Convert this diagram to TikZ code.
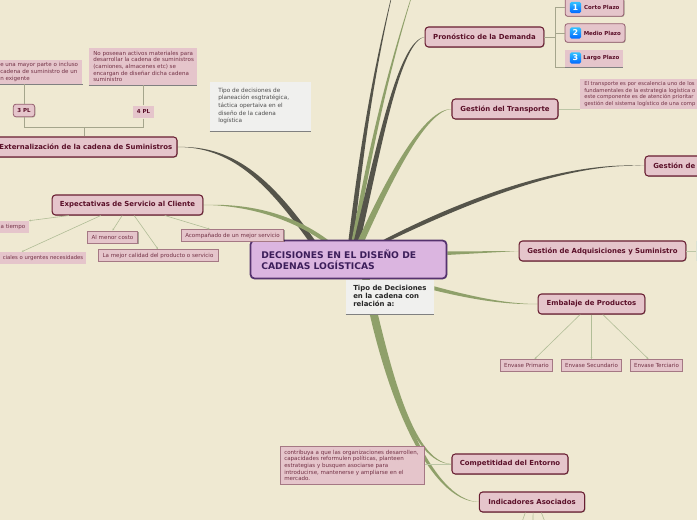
\documentclass[tikz,border=0pt]{standalone}
\usepackage{fontspec}
\setmainfont{DejaVu Sans}
\usepackage{xcolor}
\usepackage{tikz}
\usetikzlibrary{arrows.meta, backgrounds, calc, shadows}
\definecolor{paperbg}{RGB}{239,233,210}
\definecolor{branchdark}{RGB}{85,84,74}
\definecolor{branchgreen}{RGB}{143,160,106}
\definecolor{rosefill}{RGB}{229,197,203}
\definecolor{wineline}{RGB}{105,30,50}
\definecolor{winetext}{RGB}{90,15,40}
\definecolor{softtext}{RGB}{115,50,70}
\definecolor{plumfill}{RGB}{219,181,224}
\definecolor{plumline}{RGB}{85,50,110}
\definecolor{plumtext}{RGB}{60,30,90}
\definecolor{notefill}{RGB}{240,240,238}
\definecolor{stemgray}{RGB}{165,165,140}
\tikzset{
  softshadow/.style={drop shadow={shadow xshift=0.5pt, shadow yshift=-0.5pt, opacity=0.3, fill=black}},
  mainbox/.style={draw=wineline, fill=rosefill, line width=0.8pt, rounded corners=2.5pt, softshadow,
    font=\fontsize{5.2}{6}\selectfont\bfseries, text=winetext, inner sep=0pt, anchor=center},
  leafbox/.style={draw=wineline!60, fill=rosefill, line width=0.6pt, softshadow,
    font=\fontsize{4.15}{5}\selectfont, text=softtext, inner sep=0pt, anchor=center},
  flatbox/.style={fill=rosefill, font=\fontsize{4.15}{5}\selectfont, text=softtext, inner sep=0pt, anchor=center},
  plazobox/.style={draw=wineline!70, fill=rosefill, line width=0.6pt, rounded corners=2pt, softshadow,
    font=\fontsize{4.1}{5}\selectfont\bfseries, text=winetext, inner sep=0pt, anchor=center},
  plbox/.style={font=\fontsize{4.1}{5}\selectfont\bfseries, text=winetext, fill=rosefill, inner sep=0pt, anchor=center},
  iconbox/.style={top color=cyan!70!blue!80, bottom color=blue!60!cyan, rounded corners=1.2pt, minimum size=8.5pt, inner sep=0pt,
    font=\fontsize{6}{6}\selectfont\bfseries, text=white, anchor=center},
  stem/.style={draw=stemgray, line width=0.6pt},
  twig/.style={draw=branchgreen!70, line width=0.45pt, -{Stealth[length=1.6pt, width=1.4pt]}},
  longtext/.style={font=\fontsize{4.15}{4.95}\selectfont, text=softtext, align=left, anchor=west, inner sep=0pt},
}
% tapered branch: start, control, control, end, half width, colour, y side
\newcommand{\branch}[7]{
  \fill[#6] ($(#1)+(-#5,0)$) .. controls (#2) and (#3) .. (#4)
    .. controls ($(#3)+(#5*0.5,#7*#5*0.5)$) and ($(#2)+(#5*1.3,#7*#5*1.3)$) .. ($(#1)+(#5,0)$) -- cycle;
}
\begin{document}
\begin{tikzpicture}[x=0.75pt, y=-0.75pt]
  \useasboundingbox (0,0) rectangle (697,520);

  %% Centre
  \node[draw=plumline, fill=plumfill, line width=1.3pt, rounded corners=3pt, minimum width=147pt, minimum height=28.5pt,
    softshadow, inner sep=0pt, anchor=center] (root) at (348.5,259.5) {};
  \node[font=\fontsize{6.9}{8.2}\selectfont\bfseries, text=plumtext, align=left, anchor=west, inner sep=0pt] (roottext) at (261,260)
    {DECISIONES EN EL DISEÑO DE\\CADENAS LOGÍSTICAS};
  \node[fill=notefill, minimum width=66pt, minimum height=25pt, inner sep=0pt, anchor=center] (tipo) at (390,297) {};
  \node[font=\fontsize{5.2}{6.2}\selectfont\bfseries, text=black!85, align=left, anchor=west, inner sep=0pt] (tipotext) at (353,296)
    {Tipo de Decisiones\\en la cadena con\\relación a:};
  \draw[draw=gray, line width=0.6pt] (tipo.south west) -- (tipo.south east);

  %% Left side
  \node[mainbox, minimum width=138pt, minimum height=15pt] (extern) at (85,147) {};
  \node[font=\fontsize{5.2}{6}\selectfont\bfseries, text=winetext, anchor=west, inner sep=0pt] (externtext) at (-1,147)
    {Externalización de la cadena de Suministros};
  \node[flatbox, minimum width=62pt, minimum height=18pt] (leftnote) at (41,72) {};
  \node[longtext] (leftnotetext) at (0,72)
    {e una mayor parte o incluso\\cadena de suministro de un\\n exigente};
  \node[flatbox, minimum width=81pt, minimum height=28pt] (rightnote) at (143,66.5) {};
  \node[longtext] (rightnotetext) at (93,66.5)
    {No poseean activos materiales para\\desarrollar la cadena de suministros\\(camiones, almacenes etc) se\\encargan de diseñar dicha cadena\\suministro};
  \draw[draw=gray, line width=0.5pt] (leftnote.south west) -- (leftnote.south east);
  \draw[draw=gray, line width=0.5pt] (rightnote.south west) -- (rightnote.south east);
  \node[plazobox, minimum width=16pt, minimum height=9.5pt] (tresp) at (24,110.5) {3 PL};
  \node[plbox, minimum width=16pt, minimum height=9.5pt] (cuatrop) at (143.5,112) {4 PL};
  \coordinate (splitpl) at (84,127);
  \draw[stem] (extern.north -| splitpl) -- (splitpl);
  \draw[stem] (tresp.south) |- (splitpl);
  \draw[stem] (cuatrop.south) |- (splitpl);
  \draw[stem] (tresp.north) -- (tresp.north |- leftnote.south);
  \draw[stem] (cuatrop.north) -- (cuatrop.north |- rightnote.south);

  \node[fill=notefill, minimum width=76pt, minimum height=37pt, inner sep=0pt, anchor=center] (planea) at (260.5,106.5) {};
  \node[font=\fontsize{4.3}{5.7}\selectfont, text=black!70, align=left, anchor=west, inner sep=0pt] (planeatext) at (218,106)
    {Tipo de decisiones de\\planeación esgtratégica,\\táctica opertaiva en el\\diseño de la cadena\\logística};
  \draw[draw=gray, line width=0.6pt] (planea.south west) -- (planea.south east);

  \node[mainbox, minimum width=113pt, minimum height=15pt] (expecta) at (127.5,205) {Expectativas de Servicio al Cliente};
  \node[flatbox, minimum width=23.5pt, minimum height=9pt] (tiempo) at (13,227) {a tiempo};
  \node[flatbox, minimum width=65pt, minimum height=9pt, font=\fontsize{4}{5}\selectfont] (urgentes) at (43,258) {ciales o urgentes necesidades};
  \node[leafbox, minimum width=38pt, minimum height=9pt] (costo) at (112.5,237) {Al menor costo};
  \node[leafbox, minimum width=90pt, minimum height=9pt] (calidad) at (158,255.5) {La mejor calidad del producto o servicio};
  \node[leafbox, minimum width=77pt, minimum height=9pt] (acompana) at (232.5,235.5) {Acompañado de un mejor servicio};
  \draw[twig] ([xshift=-44pt]expecta.south) -- (tiempo.north east);
  \draw[twig] ([xshift=-20pt]expecta.south) -- ([xshift=-16pt]urgentes.north);
  \draw[twig] ([xshift=-4pt]expecta.south) -- (costo.north);
  \draw[twig] ([xshift=5pt]expecta.south) -- (calidad.north);
  \draw[twig] ([xshift=28pt]expecta.south) -- ([xshift=-17pt]acompana.north);

  %% Right side
  \node[mainbox, minimum width=89pt, minimum height=15pt] (demanda) at (484.5,37) {Pronóstico de la Demanda};
  \node[plazobox, minimum width=44pt, minimum height=14pt] (corto) at (594.5,7) {\hspace{11pt}Corto Plazo};
  \node[plazobox, minimum width=45pt, minimum height=14pt] (medio) at (595,33) {\hspace{11pt}Medio Plazo};
  \node[plbox, minimum width=43pt, minimum height=13pt] (largo) at (594,58.5) {\hspace{11pt}Largo Plazo};
  \draw[draw=gray, line width=0.5pt] (largo.south west) -- (largo.south east);
  \node[iconbox] (unoicon) at (575.5,7.5) {1};
  \node[iconbox] (dosicon) at (575.5,33) {2};
  \node[iconbox] (tresicon) at (575.5,58) {3};
  \coordinate (splitplazo) at (555,37);
  \draw[stem] (demanda.east) -- (splitplazo);
  \draw[stem] (corto.west) -| (splitplazo);
  \draw[stem] (medio.west) -- (medio.west -| splitplazo);
  \draw[stem] (largo.south west) -| (splitplazo);

  \node[mainbox, minimum width=79.5pt, minimum height=15pt] (transporte) at (505,109) {Gestión del Transporte};
  \node[flatbox, minimum width=90pt, minimum height=23pt] (transnote) at (640,94) {};
  \node[longtext, font=\fontsize{3.95}{4.95}\selectfont] (transnotetext) at (584,94)
    {El transporte es por escalencia uno de los\\fundamentales de la estrategia logística o\\este componente es de atención prioritar\\gestión del sistema logístico de una comp};
  \draw[draw=branchgreen!60, line width=0.6pt] (transporte.east) -- (transporte.east -| transnote.west);

  \node[mainbox, minimum width=60pt, minimum height=15pt] (inventa) at (685,166) {};
  \node[font=\fontsize{5.2}{6}\selectfont\bfseries, text=winetext, anchor=west, inner sep=0pt] (inventatext) at (653,166) {Gestión de};

  \node[mainbox, minimum width=125pt, minimum height=15pt] (adquis) at (602.5,251) {Gestión de Adquisiciones y Suministro};
  \node[fill=branchgreen!30, minimum width=8pt, minimum height=15pt, inner sep=0pt, anchor=west] (adquishoja) at (696,251) {};
  \draw[draw=branchgreen!60, line width=0.6pt] (adquis.east) -- (adquishoja.west);

  \node[mainbox, minimum width=80pt, minimum height=15pt] (embalaje) at (591.5,304) {Embalaje de Productos};
  \node[leafbox, minimum width=39pt, minimum height=9pt] (primario) at (526.5,365.5) {Envase Primario};
  \node[leafbox, minimum width=45pt, minimum height=9pt] (secundario) at (591.5,365.5) {Envase Secundario};
  \node[leafbox, minimum width=39pt, minimum height=9pt] (terciario) at (656.5,365.5) {Envase Terciario};
  \draw[twig] ([xshift=-8.5pt]embalaje.south) -- ([xshift=6pt]primario.north);
  \draw[twig] (embalaje.south) -- (secundario.north);
  \draw[twig] ([xshift=8.5pt]embalaje.south) -- ([xshift=-6pt]terciario.north);

  %% Bottom
  \node[mainbox, minimum width=87pt, minimum height=15pt] (entorno) at (510,464) {Competitidad del Entorno};
  \node[leafbox, minimum width=108pt, minimum height=28.5pt] (contribuye) at (352.5,465.5) {};
  \node[longtext] (contribuyetext) at (284,465.5)
    {contribuya a que las organizaciones desarrollen,\\capacidades reformulen políticas, planteen\\estrategias y busquen asociarse para\\introducirse,  mantenerse y ampliarse en el\\mercado.};
  \draw[draw=branchgreen!60, line width=0.6pt] (entorno.west) -- (contribuye.east |- entorno.west);

  \node[mainbox, minimum width=79pt, minimum height=15pt] (indica) at (532,502) {Indicadores Asociados};
  \coordinate (pieizq) at (522,522);
  \coordinate (piecen) at (533,522);
  \coordinate (pieder) at (545,522);
  \draw[draw=branchgreen!70, line width=0.45pt] ([xshift=-5pt]indica.south) -- (pieizq);
  \draw[draw=branchgreen!70, line width=0.45pt] ([xshift=0.8pt]indica.south) -- (piecen);
  \draw[draw=branchgreen!70, line width=0.45pt] ([xshift=7pt]indica.south) -- (pieder);

  %% Branches
  \coordinate (topdark) at (398,-30);
  \coordinate (topgreen) at (420,-30);
  \coordinate (basea) at (351,241);
  \coordinate (baseb) at (354,241);
  \coordinate (basec) at (357,241);
  \coordinate (based) at (361,241);
  \coordinate (basee) at (385,241);
  \coordinate (basef) at (312,241);
  \coordinate (baseg) at (326,241);
  \coordinate (baseh) at (366,279);
  \begin{scope}[on background layer]
    \fill[paperbg] (0,0) rectangle (697,520);
    \branch{basea}{362,130}{375,60}{topdark}{2.6}{branchdark}{1}
    \branch{baseb}{372,130}{390,60}{topgreen}{2.4}{branchgreen}{1}
    \branch{basec}{376,150}{398,40}{demanda.west}{3.2}{branchdark}{1}
    \branch{based}{390,170}{425,109}{transporte.west}{3.4}{branchgreen}{1}
    \branch{basee}{450,205}{560,160}{inventa.west}{3.6}{branchdark}{1}
    \branch{basef}{265,180}{230,147}{extern.east}{3.4}{branchdark}{-1}
    \branch{baseg}{285,215}{240,205}{expecta.east}{3.4}{branchgreen}{-1}
    \fill[branchgreen] ([yshift=6pt]root.east) -- (adquis.west) -- ([yshift=3.4pt]root.east) -- cycle;
    \fill[branchgreen] ([yshift=8pt]tipo.east) .. controls (470,296) and (505,304) .. (embalaje.west)
      .. controls (505,305) and (470,299) .. ([yshift=5pt]tipo.east) -- cycle;
    \branch{baseh}{385,370}{410,464}{entorno.west}{3.6}{branchgreen}{-1}
    \branch{baseh}{385,400}{430,502}{indica.west}{3.6}{branchgreen}{-1}
  \end{scope}
\end{tikzpicture}
\end{document}
